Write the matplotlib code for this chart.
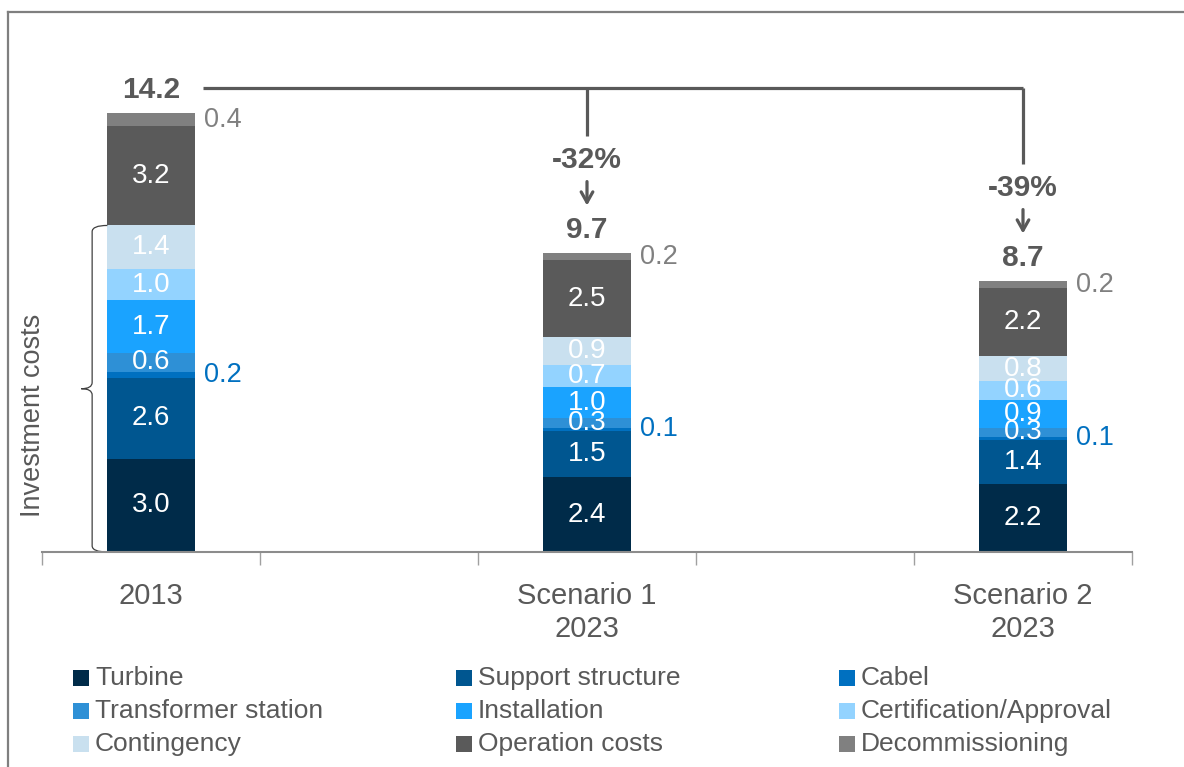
import numpy as np
import matplotlib
matplotlib.use("Agg")
import matplotlib.pyplot as plt
from matplotlib import font_manager
from matplotlib.patches import Rectangle, PathPatch
from matplotlib.lines import Line2D
from matplotlib.path import Path

names = {f.name for f in font_manager.fontManager.ttflist}
base_font = "Liberation Sans" if "Liberation Sans" in names else "DejaVu Sans"
plt.rcParams["font.family"] = [base_font, "DejaVu Sans"]

# data
categories = ["2013", "Scenario 1\n2023", "Scenario 2\n2023"]
positions = [0, 2, 4]
series = ["Turbine", "Support structure", "Cabel", "Transformer station", "Installation",
          "Certification/Approval", "Contingency", "Operation costs", "Decommissioning"]
values = {
    "Turbine":                [3.0, 2.4, 2.2],
    "Support structure":      [2.6, 1.5, 1.4],
    "Cabel":                  [0.2, 0.1, 0.1],
    "Transformer station":    [0.6, 0.3, 0.3],
    "Installation":           [1.7, 1.0, 0.9],
    "Certification/Approval": [1.0, 0.7, 0.6],
    "Contingency":            [1.4, 0.9, 0.8],
    "Operation costs":        [3.2, 2.5, 2.2],
    "Decommissioning":        [0.4, 0.2, 0.2],
}
totals = [14.2, 9.7, 8.7]
changes = ["-32%", "-39%"]

colors = ["#002B49", "#005690", "#0070C0", "#2E90D6", "#1AA3FF",
          "#93D3FF", "#C9E0EF", "#5A5A5A", "#808080"]
outside = {"Cabel": "#0070C0", "Decommissioning": "#808080"}
grey = "#595959"

fig = plt.figure(figsize=(11.84, 7.67), dpi=100)
ax = fig.add_axes([42 / 1184, 1 - 552 / 767, 1090 / 1184, 540 / 767])
ax.set_xlim(-0.5, 4.5)
ax.set_ylim(0, 540 / 31.1)

width = 0.4
bottom = np.zeros(len(categories))
for name, c in zip(series, colors):
    v = np.array(values[name])
    ax.bar(positions, v, width, bottom=bottom, color=c, edgecolor="none")
    for x, b, val in zip(positions, bottom, v):
        if name in outside:
            ax.text(x + width / 2 + 0.045, b + val / 2, f"{val:.1f}", color=outside[name],
                    fontsize=19.5, ha="left", va="center")
        else:
            ax.text(x, b + val / 2, f"{val:.1f}", color="white",
                    fontsize=20, ha="center", va="center")
    bottom += v
tops = bottom.copy()

# totals
for x, t, top in zip(positions, totals, tops):
    ax.text(x, top + 0.3, f"{t:.1f}", color=grey, fontsize=21.5, fontweight="bold",
            ha="center", va="bottom")

# connector lines and arrows
yline = tops[0] + 0.82
ax.plot([0.24, positions[2]], [yline, yline], color=grey, lw=2.3, solid_capstyle="butt")
for x, top, lab in zip(positions[1:], tops[1:], changes):
    arrow_end = top + 1.45
    lab_y = arrow_end + 1.55
    ax.plot([x, x], [yline, lab_y + 0.78], color=grey, lw=2.3, solid_capstyle="butt")
    ax.text(x, lab_y, lab, color=grey, fontsize=21.5, fontweight="bold",
            ha="center", va="center")
    ax.annotate("", xy=(x, arrow_end), xytext=(x, lab_y - 0.6),
                arrowprops=dict(arrowstyle="->,head_length=0.75,head_width=0.42",
                                color=grey, lw=2.3))

# brace for investment costs
inv_top = sum(values[n][0] for n in series[:7])
xb, xt, xe = -0.27, -0.32, -0.2
mid = inv_top / 2
r = 0.2
verts = [(xe, inv_top), (xb, inv_top), (xb, inv_top - r),
         (xb, mid + r), (xb, mid), (xt, mid),
         (xb, mid), (xb, mid - r),
         (xb, r), (xb, 0), (xe, 0)]
codes = [Path.MOVETO, Path.CURVE3, Path.CURVE3,
         Path.LINETO, Path.CURVE3, Path.CURVE3,
         Path.CURVE3, Path.CURVE3,
         Path.LINETO, Path.CURVE3, Path.CURVE3]
ax.add_patch(PathPatch(Path(verts, codes), fill=False, edgecolor="#404040", lw=0.9,
                       clip_on=False))
ax.text(-0.54, mid - 0.85, "Investment costs", rotation=90, color=grey, fontsize=19.5,
        ha="center", va="center")

# axes styling
for s in ["top", "right", "left"]:
    ax.spines[s].set_visible(False)
ax.spines["bottom"].set_color("#8C8C8C")
ax.spines["bottom"].set_linewidth(1.5)
ax.set_yticks([])
ax.set_xticks(np.arange(-0.5, 4.6, 1.0))
ax.set_xticklabels([])
ax.tick_params(axis="x", length=9, width=1, color="#A0A0A0", direction="out")
for x, lab in zip(positions, categories):
    ax.text(x, -0.95, lab, color=grey, fontsize=21, ha="center", va="top",
            linespacing=1.25)

# legend (row-wise, three columns)
col_x = [73, 456, 839]
row_y = [678, 711, 744]
for i, (name, c) in enumerate(zip(series, colors)):
    px, py = col_x[i % 3], row_y[i // 3]
    fig.patches.append(Rectangle((px / 1184, 1 - (py + 8) / 767), 16 / 1184, 16 / 767,
                                 transform=fig.transFigure, facecolor=c, edgecolor="none"))
    fig.text((px + 22) / 1184, 1 - py / 767, name, color=grey, fontsize=19,
             ha="left", va="center")

# frame
fig.add_artist(Line2D([8 / 1184, 8 / 1184], [0, 1 - 12 / 767], color="#7F7F7F", lw=1.6,
                      transform=fig.transFigure))
fig.add_artist(Line2D([8 / 1184, 1], [1 - 12 / 767, 1 - 12 / 767], color="#7F7F7F", lw=1.6,
                      transform=fig.transFigure))

fig.savefig("out.png", dpi=100)
